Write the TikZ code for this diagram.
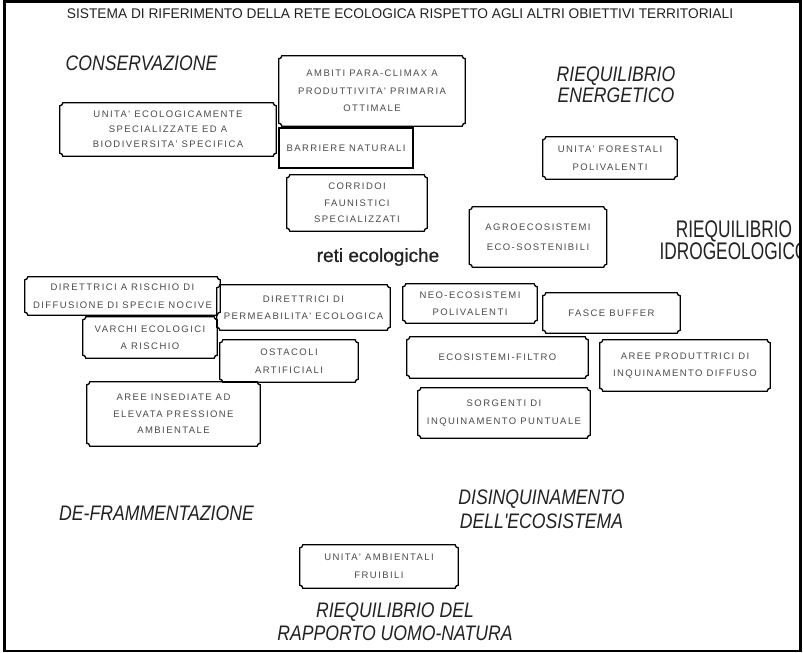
\documentclass[tikz,border=0pt]{standalone}
\usepackage{fontspec}
\setmainfont{Liberation Sans}
\newfontfamily\boxfont[LetterSpace=15]{Liberation Sans}
\newfontfamily\catfont[FakeStretch=0.84]{Liberation Sans}
\newfontfamily\idrofont[FakeStretch=0.72]{Liberation Sans}
\newfontfamily\titlefont[FakeStretch=0.98]{Liberation Sans}
\newfontfamily\retifont[FakeBold=0.8]{Liberation Sans}
\usetikzlibrary{calc}
\definecolor{boxtext}{HTML}{4A4A4A}
\definecolor{cattext}{HTML}{222222}
\def\pr{3pt}
\newcommand\plaquebox[1]{%
  \draw[boxline] ($(#1.south west)+(0,\pr)$) -- ($(#1.north west)+(0,-\pr)$)
    arc[start angle=-90,end angle=0,radius=\pr] -- ($(#1.north east)+(-\pr,0)$)
    arc[start angle=180,end angle=270,radius=\pr] -- ($(#1.south east)+(0,\pr)$)
    arc[start angle=90,end angle=180,radius=\pr] -- ($(#1.south west)+(\pr,0)$)
    arc[start angle=0,end angle=90,radius=\pr] -- cycle;}
\tikzset{
  boxline/.style={draw=black, line width=1.3pt},
  boxtxt/.style={inner sep=0pt, align=center, text=boxtext,
    font=\boxfont\fontsize{9.5}{17.5}\selectfont},
  cat/.style={inner sep=0pt, align=center, text=cattext,
    font=\catfont\itshape\fontsize{21}{22}\selectfont},
}
\begin{document}
\begin{tikzpicture}[x=1pt,y=-1pt]
\useasboundingbox (0,0) rectangle (803,653);
\fill[white] (0,0) rectangle (803,653);
% title
\node[inner sep=0pt, text=cattext, font=\titlefont\fontsize{14}{15}\selectfont] (title) at (400,13.5)
  {SISTEMA DI RIFERIMENTO DELLA RETE ECOLOGICA RISPETTO AGLI ALTRI OBIETTIVI TERRITORIALI};
% category labels
\node[cat] (cons) at (141.5,63) {CONSERVAZIONE};
\node[cat, font=\catfont\itshape\fontsize{21}{21}\selectfont] (energ) at (616,84.5) {RIEQUILIBRIO\\ENERGETICO};
\node[cat] (defr) at (156.5,513) {DE-FRAMMENTAZIONE};
\node[cat, font=\catfont\itshape\fontsize{21}{24}\selectfont] (disinq) at (541.5,509) {DISINQUINAMENTO\\DELL'ECOSISTEMA};
\node[cat, font=\catfont\itshape\fontsize{21}{23}\selectfont] (uomo) at (395,621.5) {RIEQUILIBRIO DEL\\RAPPORTO UOMO-NATURA};
\begin{scope}
  \clip (5,2) rectangle (799.5,650);
  \node[inner sep=0pt, align=center, text=cattext, font=\idrofont\fontsize{24}{21}\selectfont] (idro) at (734,240) {RIEQUILIBRIO\\IDROGEOLOGICO};
\end{scope}
\node[inner sep=0pt, text=cattext, font=\retifont\fontsize{19}{20}\selectfont] (reti) at (378,257) {reti ecologiche};
% boxes
\node[boxtxt, minimum width=186pt, minimum height=70pt] (ambiti) at (372,91) {AMBITI PARA-CLIMAX A\\PRODUTTIVITA' PRIMARIA\\OTTIMALE};
\node[boxtxt, minimum width=134pt, minimum height=40pt, boxline] (barr) at (346,148) {BARRIERE NATURALI};
\node[boxtxt, minimum width=216pt, minimum height=53pt, font=\boxfont\fontsize{9.5}{15}\selectfont] (unieco) at (168,129.5) {UNITA' ECOLOGICAMENTE\\SPECIALIZZATE ED A\\BIODIVERSITA' SPECIFICA};
\node[boxtxt, minimum width=140pt, minimum height=56pt, font=\boxfont\fontsize{9.5}{16.5}\selectfont] (corr) at (357,203) {CORRIDOI\\FAUNISTICI\\SPECIALIZZATI};
\node[boxtxt, minimum width=134pt, minimum height=42pt] (forest) at (610,158) {UNITA' FORESTALI\\POLIVALENTI};
\node[boxtxt, minimum width=137pt, minimum height=60pt, font=\boxfont\fontsize{9.5}{20}\selectfont] (agro) at (538,237) {AGROECOSISTEMI\\ECO-SOSTENIBILI};
\node[boxtxt, minimum width=195pt, minimum height=38pt] (dirrisc) at (122.5,296) {DIRETTRICI A RISCHIO DI\\DIFFUSIONE DI SPECIE NOCIVE};
\node[boxtxt, minimum width=173pt, minimum height=45pt] (dirperm) at (303.5,307.5) {DIRETTRICI DI\\PERMEABILITA' ECOLOGICA};
\node[boxtxt, minimum width=134pt, minimum height=41pt] (varchi) at (150,337.5) {VARCHI ECOLOGICI\\A RISCHIO};
\node[boxtxt, minimum width=138pt, minimum height=42pt] (ostac) at (289,361) {OSTACOLI\\ARTIFICIALI};
\node[boxtxt, minimum width=173pt, minimum height=64pt, font=\boxfont\fontsize{9.5}{16.5}\selectfont] (insed) at (173.5,414) {AREE INSEDIATE AD\\ELEVATA PRESSIONE\\AMBIENTALE};
\node[boxtxt, minimum width=134pt, minimum height=39pt] (neo) at (470,303.5) {NEO-ECOSISTEMI\\POLIVALENTI};
\node[boxtxt, minimum width=137pt, minimum height=40pt] (fasce) at (611.5,313) {FASCE BUFFER};
\node[boxtxt, minimum width=181pt, minimum height=41pt] (filtro) at (497.5,357.5) {ECOSISTEMI-FILTRO};
\node[boxtxt, minimum width=170pt, minimum height=51pt] (diffuso) at (685,365.5) {AREE PRODUTTRICI DI\\INQUINAMENTO DIFFUSO};
\node[boxtxt, minimum width=172pt, minimum height=50pt] (puntuale) at (504,413) {SORGENTI DI\\INQUINAMENTO PUNTUALE};
\node[boxtxt, minimum width=158pt, minimum height=43pt] (fruib) at (379,566.5) {UNITA' AMBIENTALI\\FRUIBILI};
\foreach \n in {ambiti,unieco,corr,forest,agro,dirrisc,dirperm,varchi,ostac,insed,neo,fasce,filtro,diffuso,puntuale,fruib}{\plaquebox{\n}}
% frame
\draw[line width=2.5pt] (4.5,1.5) rectangle (800.5,651);
\end{tikzpicture}
\end{document}
